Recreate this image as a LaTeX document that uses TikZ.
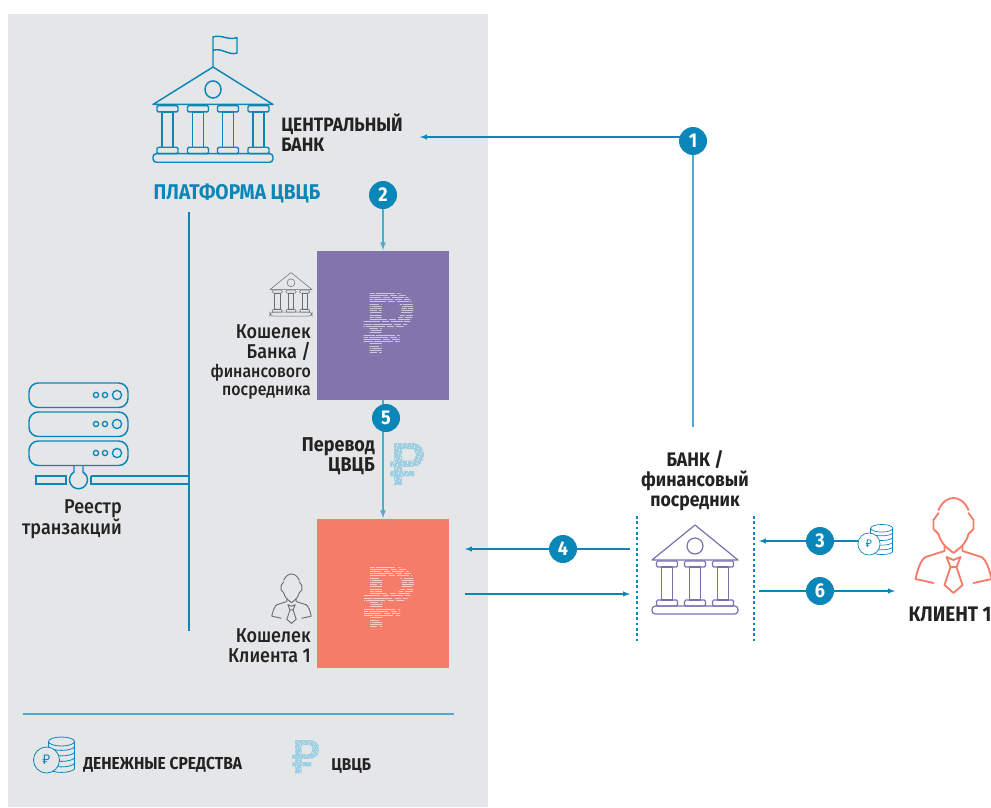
\documentclass[tikz,border=0pt]{standalone}
\usepackage{fontspec}
\setmainfont{Fira Sans}[FakeStretch=0.9]
\newfontfamily\rubfont{Noto Sans}
\newfontfamily\medfont{Fira Sans Medium}[FakeStretch=0.9]
\usetikzlibrary{arrows}
\definecolor{panelgray}{HTML}{E5E6E8}
\definecolor{cbdrblue}{HTML}{0A86B8}
\definecolor{linkblue}{HTML}{4FA9D0}
\definecolor{paleblue}{HTML}{9FCFE2}
\definecolor{walletviolet}{HTML}{8374AB}
\definecolor{walletcoral}{HTML}{F67C6A}
\definecolor{darktext}{HTML}{222222}
\definecolor{iconviolet}{HTML}{7C6FAE}
\definecolor{icongray}{HTML}{6B6E70}
\newcommand{\bankbody}[2]{
  \draw[pic actions,line join=round] (-#2,35) -- (0,0) -- (#2,35) -- cycle;
  \draw[pic actions] (0,21) circle (8);
  \foreach \cx in {#1}{
    \draw[pic actions,rounded corners=1pt] (\cx-10.5,36) rectangle (\cx+10.5,42);
    \draw[pic actions] (\cx-5.5,42) rectangle (\cx+5.5,75);
    \draw[pic actions,rounded corners=1pt] (\cx-10.5,75) rectangle (\cx+10.5,81);
  }
  \draw[pic actions,rounded corners=2.5pt] (-#2,81) rectangle (#2,89);
}
\newcommand{\rubleglyph}[2]{
  \begin{scope}
    \clip (6,0) -- (32,0) .. controls (44,0) and (50,8) .. (50,17) .. controls (50,27) and (44,35) .. (32,35)
      -- (18,35) -- (18,41) -- (36,41) -- (36,49) -- (18,49) -- (18,62) -- (6,62) -- (6,49) -- (0,49)
      -- (0,41) -- (6,41) -- (6,35) -- (0,35) -- (0,27) -- (6,27) -- cycle
      (18,9) -- (18,26) -- (31,26) .. controls (36,26) and (38,21) .. (38,17) .. controls (38,13) and (36,9) .. (31,9) -- cycle;
    \foreach \rowno in {0,...,#1}{
      \pgfmathsetmacro{\rowshift}{mod(\rowno*7,19)}
      \draw[#2] (-1-\rowshift,\rowno*62/#1) -- (51,\rowno*62/#1);
    }
  \end{scope}
}
\tikzset{
  x=0.75pt,y=-0.75pt,
  >=latex,
  flow/.style={cbdrblue,line width=0.8pt},
  link/.style={linkblue,line width=1pt},
  badge/.style={circle,fill=cbdrblue,text=white,inner sep=0pt,minimum size=21pt,font=\bfseries\fontsize{15}{15}\selectfont},
  wallet/.style={minimum width=99pt,minimum height=111.75pt,inner sep=0pt},
  caption/.style={text=darktext,inner sep=0pt,font=\fontsize{#1}{15}\selectfont\bfseries},
  caption/.default=14.5,
  lighter/.style={text=darktext,inner sep=0pt,font=\medfont\fontsize{#1}{15}\selectfont},
  lighter/.default=15,
  bank three/.pic={\bankbody{-28,0,28}{43}},
  bank four/.pic={\bankbody{-45.5,-15,15,45.5}{60}},
  ruble hatch/.pic={\rubleglyph{28}{white,opacity=0.6,line width=0.7pt,dash pattern=on 9pt off 1pt on 14pt off 2pt on 5pt off 1.5pt}},
  ruble dots/.pic={\rubleglyph{40}{paleblue,line width=0.8pt,dash pattern=on 3pt off 0.5pt on 6pt off 0.7pt}},
  person/.pic={
    \draw[pic actions,line join=round,line cap=round] (-15,12) .. controls (-11,3) and (-5,0) .. (0,0) .. controls (5,0) and (11,3) .. (15,12);
    \draw[pic actions,line join=round,line cap=round] (-15,15) -- (-20,22) -- (-20,31) -- (-15,36) .. controls (-13,44) and (-8,49) .. (-5,51) -- (0,55) -- (5,51) .. controls (8,49) and (13,44) .. (15,36) -- (20,31) -- (20,22) -- (15,15);
    \draw[pic actions,line join=round,line cap=round] (-9,48) -- (-9,53) -- (-28,59) .. controls (-33,62) and (-36,72) .. (-38,81) -- (-20,85);
    \draw[pic actions,line join=round,line cap=round] (9,48) -- (9,53) -- (28,59) .. controls (33,62) and (36,72) .. (38,81) -- (20,85);
    \draw[pic actions,line join=round] (-7,59) -- (0,62) -- (7,59) -- (3,69) -- (-3,69) -- cycle;
    \draw[pic actions,line join=round] (-3,69) -- (-9,87) -- (0,95) -- (9,87) -- (3,69);
  },
  coins/.pic={
    \draw[pic actions] (15,-18.5) ellipse (13 and 4.5);
    \foreach \dy in {-12,-6.5,-1,4.5,10}{
      \draw[pic actions] (2,\dy-1) .. controls (6,\dy+3.5) and (24,\dy+3.5) .. (28,\dy-1);
    }
    \draw[pic actions] (2,-18.5) -- (2,9) (28,-18.5) -- (28,9);
    \fill[coinface] (0,0) circle (13);
    \draw[pic actions] (0,0) circle (13);
  },
}
\begin{document}
\begin{tikzpicture}
  \useasboundingbox (0,0) rectangle (991,807);
  % Panel
  \fill[panelgray] (8,14) rectangle (488,807);

  % Central bank
  \draw[cbdrblue,line width=1.1pt,line join=round] (213,67) -- (213,37) .. controls (221,34) and (229,41) .. (237,37.5) -- (237,53) .. controls (229,56) and (221,47) .. (213,50.5);
  \pic[draw=cbdrblue,line width=1.1pt,yscale=1.07] (cbicon) at (213,67) {bank four};
  \node[caption,align=left,anchor=west] (cblabel) at (281,132.5) {ЦЕНТРАЛЬНЫЙ\\БАНК};
  \node[caption=16,text=cbdrblue,anchor=center] (platform) at (237,193) {ПЛАТФОРМА ЦВЦБ};

  % Bus and ledger
  \coordinate (bustop) at (189,212);
  \coordinate (busend) at (189,631);
  \draw[cbdrblue,line width=1.9pt] (bustop) -- (busend);
  \foreach \sy in {383,412,441}{
    \draw[cbdrblue,line width=1.1pt,rounded corners=7pt] (29,\sy) rectangle (128,\sy+24.5);
    \draw[cbdrblue,line width=1pt] (96,\sy+12) circle (2.6) (105,\sy+12) circle (2.6) (117,\sy+12) circle (4.6);
  }
  \draw[cbdrblue,line width=1.1pt] (74,465.5) -- (74,472) arc (240:-60:9) -- (83,465.5);
  \draw[cbdrblue,line width=1.1pt] (66,476) -- (36,476) -- (36,484) -- (66,484) -- cycle;
  \draw[cbdrblue,line width=1.1pt] (91,476) -- (189,476) (189,484) -- (91,484) -- (91,476);
  \node[lighter,align=right,anchor=east] (ledger) at (122,519.5) {Реестр\\транзакций};

  % Wallets
  \node[wallet,fill=walletviolet,anchor=north west] (bankwallet) at (317,251) {};
  \node[wallet,fill=walletcoral,anchor=north west] (clientwallet) at (317,519) {};
  \pic (bankruble) at (363.5,293) {ruble hatch};
  \pic (clientruble) at (364,567) {ruble hatch};
  \pic[draw=icongray,line width=0.4pt,scale=0.49] (smallbank) at (291,272.5) {bank three};
  \pic[draw=icongray,line width=0.7pt,scale=0.52] (smallperson) at (291.5,574) {person};
  \node[lighter,align=right,anchor=east] (bankcap) at (311,343) {Кошелек\\Банка /};
  \node[lighter=13.2,align=right,anchor=east] (bankcaptwo) at (311,381.5) {финансового\\[-1.5pt]посредника};
  \node[lighter,align=right,anchor=east] (clientcap) at (311,646) {Кошелек\\Клиента 1};

  % Step 2 and step 5
  \node[badge] (two) at (383,195) {2};
  \coordinate (twotip) at (383,250);
  \draw[->,link] (two) -- (twotip);
  \coordinate (fivefoot) at (383,400);
  \coordinate (fivetip) at (383,518);
  \draw[->,link] (fivefoot) -- (fivetip);
  \node[badge] (five) at (386,418) {5};
  \node[caption=15,align=right,anchor=east] (transfer) at (375,456.5) {Перевод\\ЦВЦБ};
  \pic[scale=0.68] (transferruble) at (390,443) {ruble dots};

  % Bank and intermediary
  \node[caption=14.7,align=center] (fincap) at (695,481) {БАНК /\\финансовый\\посредник};
  \pic[draw=iconviolet,line width=0.9pt] (finicon) at (695,525) {bank three};
  \coordinate (dotsla) at (637,516);
  \coordinate (dotslb) at (637,642);
  \coordinate (dotsra) at (754,516);
  \coordinate (dotsrb) at (754,642);
  \draw[cbdrblue,line width=1pt,dash pattern=on 2pt off 2pt] (dotsla) -- (dotslb);
  \draw[cbdrblue,line width=1pt,dash pattern=on 2pt off 2pt] (dotsra) -- (dotsrb);

  % Step 1
  \node[badge] (one) at (693,141) {1};
  \coordinate (onefoot) at (693,427);
  \coordinate (onein) at (420,137);
  \coordinate (oneout) at (681,137);
  \draw[link] (onefoot) -- (one);
  \draw[->,flow] (oneout) -- (onein);

  % Steps 3, 4 and 6
  \node[badge] (four) at (563,549) {4};
  \coordinate (fourfrom) at (630,549);
  \coordinate (fourtip) at (465,549);
  \draw[flow] (fourfrom) -- (four);
  \draw[->,flow] (four) -- (fourtip);
  \coordinate (backfrom) at (465,594);
  \coordinate (backtip) at (630,594);
  \draw[->,flow] (backfrom) -- (backtip);
  \node[badge] (three) at (820,541) {3};
  \coordinate (threefrom) at (858,541);
  \coordinate (threetip) at (759,541);
  \draw[flow] (threefrom) -- (three);
  \draw[->,flow] (three) -- (threetip);
  \node[badge] (six) at (820,591) {6};
  \coordinate (sixfrom) at (759,591);
  \coordinate (sixtip) at (895,591);
  \draw[flow] (sixfrom) -- (six);
  \draw[->,flow] (six) -- (sixtip);
  \colorlet{coinface}{white}
  \pic[draw=cbdrblue,line width=0.5pt,scale=0.85] (smallcoins) at (869,544) {coins};
  \node[text=cbdrblue,inner sep=0pt,font=\rubfont\bfseries\fontsize{8}{8}\selectfont] (smallrub) at (869,544) {₽};

  % Client
  \pic[draw=walletcoral,line width=1.4pt] (client) at (953.5,498) {person};
  \node[caption=15.8,anchor=center] (clientcaption) at (950,614) {КЛИЕНТ 1};

  % Legend
  \coordinate (rulea) at (23,714);
  \coordinate (ruleb) at (454,714);
  \draw[link] (rulea) -- (ruleb);
  \colorlet{coinface}{panelgray}
  \pic[draw=cbdrblue,line width=0.6pt] (legcoins) at (46.5,760) {coins};
  \node[text=cbdrblue,inner sep=0pt,font=\rubfont\bfseries\fontsize{10}{10}\selectfont] (legrub) at (46.5,760) {₽};
  \node[caption=13,anchor=west] (legmoney) at (83,765) {ДЕНЕЖНЫЕ СРЕДСТВА};
  \pic[scale=0.54] (legruble) at (292,740) {ruble dots};
  \node[caption=12.8,anchor=west] (legcbdc) at (331,766) {ЦВЦБ};
\end{tikzpicture}
\end{document}
